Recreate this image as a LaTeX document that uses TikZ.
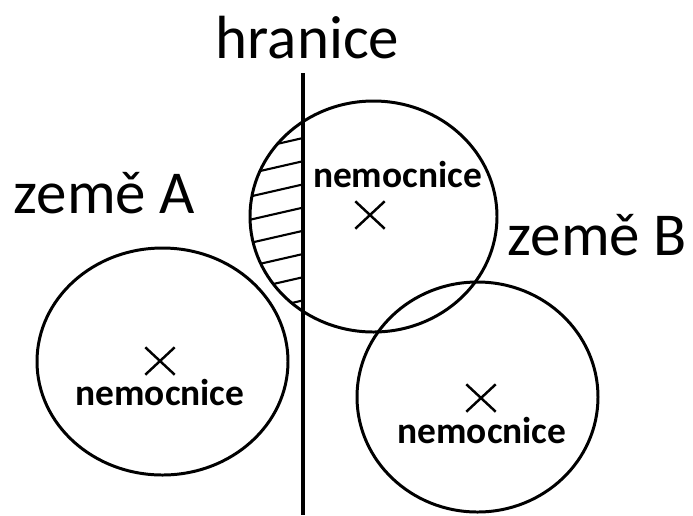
\documentclass[tikz,border=0pt]{standalone}
\usepackage{fontspec}
\setmainfont{Carlito}
\usetikzlibrary{shapes.misc}

\begin{document}
\begin{tikzpicture}[x=0.02cm,y=-0.02cm,line width=1.7pt,
    big/.style={font=\fontsize{34.7}{40}\selectfont,inner sep=0,anchor=base},
    hosp/.style={font=\bfseries\fontsize{21.3}{24}\selectfont,inner sep=0,anchor=base},
    spot/.style={cross out,draw,line width=1.4pt,minimum width=0.54cm,minimum height=0.5cm,inner sep=0}]
  \useasboundingbox (0,0) rectangle (693,515);
  \coordinate (cA) at (162.5,361.5);
  \coordinate (cM) at (373.5,216.5);
  \coordinate (cB) at (477.5,397);
  \coordinate (top) at (303,73);
  \coordinate (bot) at (303,515);
  % sraffovana cast za hranici
  \begin{scope}
    \clip (cM) ellipse [x radius=123.5,y radius=115.5];
    \clip (0,0) rectangle (303,515);
    \foreach \k in {0,...,7}
      \draw[line width=1.2pt] (150,{173+23.2*\k}) -- (303,{138+23.2*\k});
  \end{scope}
  \draw (cA) ellipse [x radius=125.5,y radius=113.5];
  \draw (cM) ellipse [x radius=123.5,y radius=115.5];
  \draw (cB) ellipse [x radius=120.5,y radius=115];
  \draw[line width=1.8pt] (top) -- (bot);
  \node[big] (hr) at (307.5,58) {hranice};
  \node[big] (zA) at (104.5,213) {země A};
  \node[big] (zB) at (597.5,255) {země B};
  \node[spot] (xA) at (160,361) {};
  \node[spot] (xM) at (370,215) {};
  \node[spot] (xB) at (481,398) {};
  \node[hosp] (nA) at (160,405) {nemocnice};
  \node[hosp] (nM) at (397.5,187) {nemocnice};
  \node[hosp] (nB) at (482,443) {nemocnice};
\end{tikzpicture}
\end{document}
